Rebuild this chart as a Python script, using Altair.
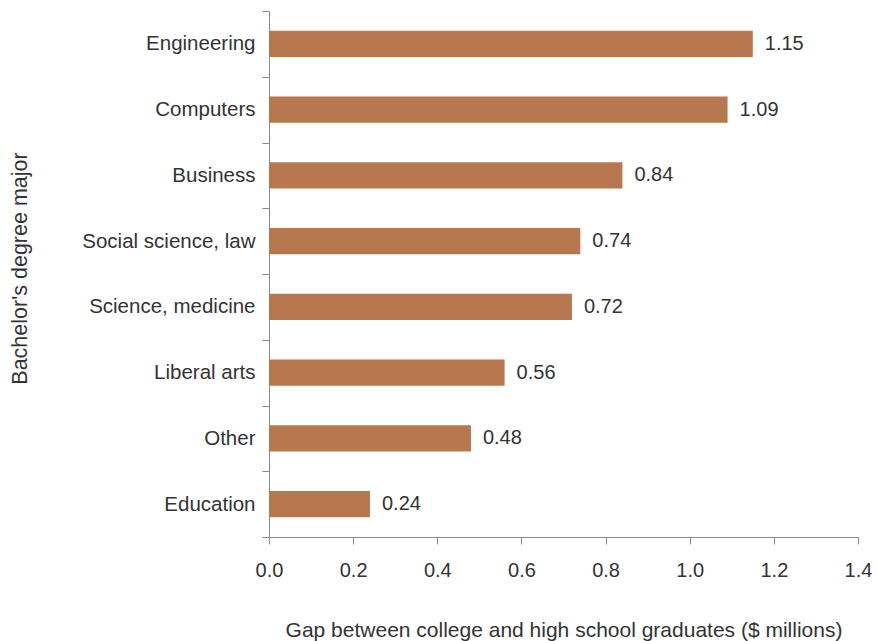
import altair as alt
import pandas as pd

majors = ["Engineering", "Computers", "Business", "Social science, law",
          "Science, medicine", "Liberal arts", "Other", "Education"]
gaps = [1.15, 1.09, 0.84, 0.74, 0.72, 0.56, 0.48, 0.24]
labels = ["1.15", "1.09", "0.84", "0.74", "0.72", "0.56", "0.48", "0.24"]

df = pd.DataFrame({"major": majors, "gap": gaps, "label": labels})

FONT = "Liberation Sans"
BAR = "#B8784F"

y_enc = alt.Y("major:N", sort=majors,
              scale=alt.Scale(paddingInner=0, paddingOuter=0),
              axis=alt.Axis(title="Bachelor's degree major", tickBand="extent",
                            labelPadding=7, titlePadding=50, titleY=257,
                            titleFontSize=21.5, labelFontSize=20.5))
x_enc = alt.X("gap:Q", scale=alt.Scale(domain=[0, 1.4], nice=False),
              axis=alt.Axis(title="Gap between college and high school graduates ($ millions)",
                            values=[0, 0.2, 0.4, 0.6, 0.8, 1.0, 1.2, 1.4],
                            format=".1f", labelPadding=16, titlePadding=39,
                            labelFlush=False, grid=False, labelFontSize=20,
                            titleFontSize=21))

bars = alt.Chart(df).mark_bar(color=BAR, height=alt.RelativeBandSize(0.4)).encode(x=x_enc, y=y_enc)
text = alt.Chart(df).mark_text(align="left", dx=12, fontSize=20, font=FONT,
                               color="#333333").encode(
    x=alt.X("gap:Q"), y=alt.Y("major:N", sort=majors), text="label:N")

chart = (bars + text).properties(
    width=589, height=526,
    autosize=alt.AutoSizeParams(type="none"),
    padding={"left": 269, "top": 11, "right": 20, "bottom": 104},
).configure_view(stroke=None).configure_axis(
    domainColor="#8a8a8a", tickColor="#8a8a8a", tickSize=7,
    labelFont=FONT, titleFont=FONT,
    labelColor="#333333", titleColor="#333333", titleFontWeight="normal",
    grid=False,
)

chart.save("out.html", embed_options={"renderer": "svg", "actions": False})
